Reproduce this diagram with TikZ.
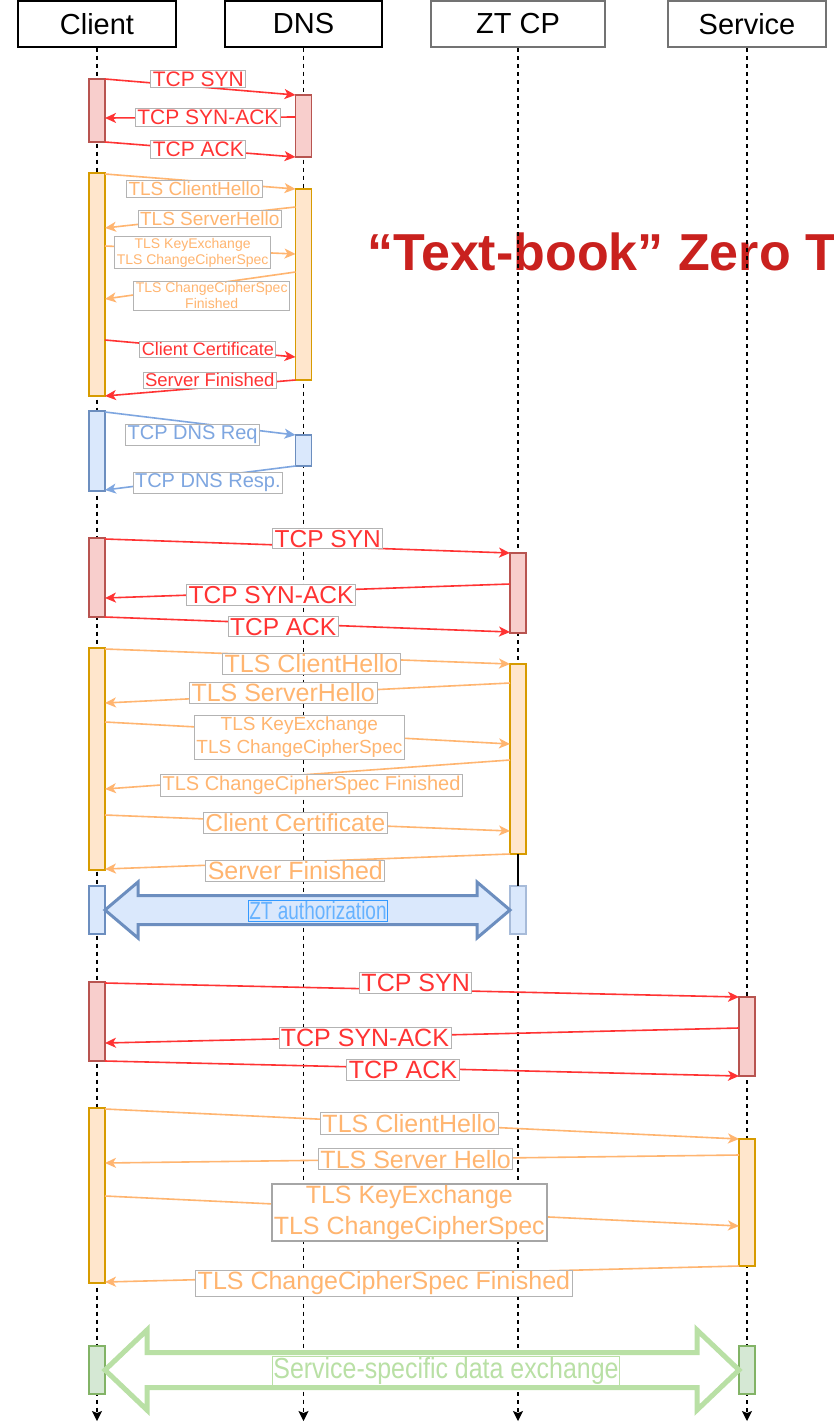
\documentclass[tikz,border=0pt]{standalone}
\usepackage{fontspec}
\setmainfont{Liberation Sans}
\newfontfamily\condensedsans{Liberation Sans}[FakeStretch=0.76]
\newfontfamily\narrowsans{Liberation Sans}[FakeStretch=0.86]
\usetikzlibrary{arrows.meta,calc}

\definecolor{tcpred}{HTML}{FF3333}
\definecolor{tlsorange}{HTML}{FFB570}
\definecolor{dnsblue}{HTML}{7EA6E0}
\definecolor{redfill}{HTML}{F8CECC}
\definecolor{redline}{HTML}{B85450}
\definecolor{orangefill}{HTML}{FFE6CC}
\definecolor{orangeline}{HTML}{D79B00}
\definecolor{bluefill}{HTML}{DAE8FC}
\definecolor{blueline}{HTML}{6C8EBF}
\definecolor{greenfill}{HTML}{D5E8D4}
\definecolor{greenline}{HTML}{82B366}
\definecolor{palegreen}{HTML}{B9E0A5}
\definecolor{lblgray}{HTML}{B3B3B3}
\definecolor{ztframe}{HTML}{3399FF}
\definecolor{zttext}{HTML}{66B2FF}
\definecolor{titlered}{HTML}{C9211E}

\begin{document}
\begin{tikzpicture}[x=1pt,y=-1pt,
  fs/.style 2 args={font=\fontsize{#1}{#2}\selectfont},
  lower/.style={yshift={-1pt*(#1)}},
  head/.style={draw=black, line width=1.3pt, minimum width=158pt, minimum height=46pt,
    inner sep=0pt, fs={29}{34}},
  grayhead/.style={head, draw=black!55, line width=2pt},
  lifeline/.style={line width=1.4pt, dash pattern=on 4pt off 4pt,
    -{Stealth[length=10pt,width=10pt,inset=2pt]}},
  barbase/.style={rectangle, minimum width=16pt, inner sep=0pt, outer sep=0pt, line width=1.4pt},
  redbar/.style={barbase, fill=redfill, draw=redline},
  orangebar/.style={barbase, fill=orangefill, draw=orangeline},
  bluebar/.style={barbase, fill=bluefill, draw=blueline},
  greenbar/.style={barbase, fill=greenfill, draw=greenline},
  msg/.style={line width=1.6pt, -{Stealth[length=11pt,width=10pt,inset=3pt]}},
  tcp/.style={msg, color=tcpred},
  tls/.style={msg, color=tlsorange},
  dnsmsg/.style={msg, color=dnsblue},
  lbl/.style={fill=white, draw=lblgray, line width=0.8pt, inner xsep=2pt, inner ysep=1.5pt,
    align=center},
  ztarrow/.style={fill=bluefill, draw=blueline, line width=3pt},
  dataarrow/.style={fill=white, draw=palegreen, line width=5pt}
]
\useasboundingbox (0,0) rectangle (834,1422);
\fill[white] (0,0) rectangle (834,1422);

% heading
\node[anchor=base west, inner sep=0pt, text=titlered,
      font=\bfseries\fontsize{52}{60}\selectfont] (title) at (367,270) {“Text-book” Zero T};

% participants
\node[head] (client) at (97,24) {Client};
\node[head, minimum width=157pt] (dns) at (303.5,24) {DNS};
\node[grayhead, minimum width=174pt] (ztcp) at (518,24) {ZT CP};
\node[grayhead] (service) at (747,24) {Service};

% lifelines
\coordinate (clientend) at (97,1421);
\coordinate (dnsend) at (303.5,1421);
\coordinate (ztcpend) at (518,1421);
\coordinate (serviceend) at (747,1421);
\draw[lifeline] (client.south) -- (clientend);
\draw[lifeline] (dns.south) -- (dnsend);
\draw[lifeline] (ztcp.south) -- (ztcpend);
\draw[lifeline] (service.south) -- (serviceend);

% activation bars
\node[redbar, minimum height=63pt] (c1) at (97,110.5) {};
\node[redbar, minimum height=62pt] (d1) at (303.5,126) {};
\node[orangebar, minimum height=223pt] (c2) at (97,284.5) {};
\node[orangebar, minimum height=191pt] (d2) at (303.5,284.5) {};
\node[bluebar, minimum height=80pt] (c3) at (97,451) {};
\node[bluebar, minimum height=31pt] (d3) at (303.5,450.5) {};
\node[redbar, minimum height=79pt] (c4) at (97,577.5) {};
\node[redbar, minimum height=80pt] (z4) at (518,593) {};
\node[orangebar, minimum height=222pt] (c5) at (97,759) {};
\node[orangebar, minimum height=190pt] (z5) at (518,759) {};
\node[bluebar, minimum height=48pt] (c6) at (97,910) {};
\node[bluebar, draw=blueline!60, minimum height=48pt] (z6) at (518,910) {};
\node[redbar, minimum height=79pt] (c7) at (97,1021.5) {};
\node[redbar, minimum height=79pt] (s7) at (747,1036.5) {};
\node[orangebar, minimum height=175pt] (c8) at (97,1195.5) {};
\node[orangebar, minimum height=127pt] (s8) at (747,1202.5) {};
\node[greenbar, minimum height=48pt] (c9) at (97,1370) {};
\node[greenbar, minimum height=48pt] (s9) at (747,1370) {};

\draw[line width=2.2pt] (z5.south) -- (z6.north);

% Client <-> DNS: TCP handshake
\draw[tcp] (c1.east |- 0,79) -- node[lbl, fs={21}{25}, pos=.49, lower=-8] {TCP SYN} (d1.west |- 0,95);
\draw[tcp] (d1.west |- 0,117) -- node[lbl, fs={21}{25}, pos=.46] {TCP SYN-ACK} (c1.east |- 0,118);
\draw[tcp] (c1.east |- 0,142) -- node[lbl, fs={21}{25}, pos=.49] {TCP ACK} (d1.west |- 0,157);

% Client <-> DNS: TLS handshake
\draw[tls] (c2.east |- 0,174) -- node[lbl, fs={19}{22}, pos=.47, lower=8] {TLS ClientHello} (d2.west |- 0,189);
\draw[tls] (d2.west |- 0,207) -- node[lbl, fs={19}{22}, pos=.45, lower=2.5] {TLS ServerHello} (c2.east |- 0,228);
\draw[tls] (c2.east |- 0,246) -- node[lbl, fs={14}{16}, pos=.46, lower=3] {TLS KeyExchange\\TLS ChangeCipherSpec} (d2.west |- 0,254);
\draw[tls] (d2.west |- 0,272) -- node[lbl, fs={14}{16}, pos=.44, lower=12] {TLS ChangeCipherSpec\\Finished} (c2.east |- 0,299);
\draw[tcp] (c2.east |- 0,340) -- node[lbl, fs={18}{21}, pos=.54] {Client Certificate} (d2.west |- 0,357);
\draw[tcp] (d2.west |- 0,380) -- node[lbl, fs={18.5}{21}, pos=.45, lower=-7] {Server Finished} (c2.east |- 0,396);

% Client <-> DNS: DNS query
\draw[dnsmsg] (c3.east |- 0,412) -- node[lbl, fs={20}{24}, pos=.46, lower=12] {TCP DNS Req} (d3.west |- 0,435);
\draw[dnsmsg] (d3.west |- 0,466) -- node[lbl, fs={20}{24}, pos=.46, lower=6] {TCP DNS Resp.} (c3.east |- 0,490);

% Client <-> ZT CP: TCP handshake
\draw[tcp] (c4.east |- 0,539) -- node[lbl, fs={24.5}{29}, pos=.55, lower=-8] {TCP SYN} (z4.west |- 0,553);
\draw[tcp] (z4.west |- 0,584) -- node[lbl, fs={24.5}{29}, pos=.59, lower=2.5] {TCP SYN-ACK} (c4.east |- 0,598);
\draw[tcp] (c4.east |- 0,617) -- node[lbl, fs={24.5}{29}, pos=.44, lower=3] {TCP ACK} (z4.west |- 0,632);

% Client <-> ZT CP: TLS handshake
\draw[tls] (c5.east |- 0,649) -- node[lbl, fs={25}{30}, pos=.51, lower=7] {TLS ClientHello} (z5.west |- 0,664);
\draw[tls] (z5.west |- 0,683) -- node[lbl, fs={25}{30}, pos=.56, lower=-1.5] {TLS ServerHello} (c5.east |- 0,703);
\draw[tls] (c5.east |- 0,722) -- node[lbl, fs={19}{23}, pos=.48, lower=5] {TLS KeyExchange\\TLS ChangeCipherSpec} (z5.west |- 0,744);
\draw[tls] (z5.west |- 0,760) -- node[lbl, fs={20}{24}, pos=.49, lower=11] {TLS ChangeCipherSpec Finished} (c5.east |- 0,789);
\draw[tls] (c5.east |- 0,815) -- node[lbl, fs={24.5}{29}, pos=.47] {Client Certificate} (z5.west |- 0,831);
\draw[tls] (z5.west |- 0,854) -- node[lbl, fs={25}{30}, pos=.53, lower=9] {Server Finished} (c5.east |- 0,869);

% ZT authorization
\draw[ztarrow] (c6.east) -- ++(33,-28) -- ++(0,13.5) -- ($(z6.west)+(-33,-14.5)$)
  -- ++(0,-13.5) -- (z6.west) -- ++(-33,28) -- ++(0,-13.5)
  -- ($(c6.east)+(33,14.5)$) -- ++(0,13.5) -- cycle;
\node[draw=ztframe, line width=1.2pt, inner xsep=1pt, inner ysep=1pt, text=zttext,
      font=\condensedsans\fontsize{25}{28}\selectfont] (ztlabel) at (318,911) {ZT authorization};

% Client <-> Service: TCP handshake
\draw[tcp] (c7.east |- 0,983) -- node[lbl, fs={25}{30}, pos=.49, lower=-7] {TCP SYN} (s7.west |- 0,997);
\draw[tcp] (s7.west |- 0,1028) -- node[lbl, fs={25}{30}, pos=.59, lower=1] {TCP SYN-ACK} (c7.east |- 0,1043);
\draw[tcp] (c7.east |- 0,1061) -- node[lbl, fs={25}{30}, pos=.47, lower=2] {TCP ACK} (s7.west |- 0,1076);

% Client <-> Service: TLS handshake
\draw[tls] (c8.east |- 0,1109) -- node[lbl, fs={25}{30}, pos=.48] {TLS ClientHello} (s8.west |- 0,1139);
\draw[tls] (s8.west |- 0,1155) -- node[lbl, fs={25}{30}, pos=.51] {TLS Server Hello} (c8.east |- 0,1163);
\draw[tls] (c8.east |- 0,1196) -- node[lbl, line width=1.6pt, draw=black!35, fs={25}{31}, pos=.48, lower=2]
  {TLS KeyExchange\\TLS ChangeCipherSpec} (s8.west |- 0,1226);
\draw[tls] (s8.west |- 0,1266) -- node[lbl, fs={25}{30}, pos=.56, lower=8.5] {TLS ChangeCipherSpec Finished} (c8.east |- 0,1282);

% Service-specific data exchange
\draw[dataarrow] (c9.east) -- ++(42,-40) -- ++(0,22.5) -- ($(s9.west)+(-42,-17.5)$)
  -- ++(0,-22.5) -- (s9.west) -- ++(-42,40) -- ++(0,-22.5)
  -- ($(c9.east)+(42,17.5)$) -- ++(0,22.5) -- cycle;
\node[fill=white, draw=palegreen, line width=1pt, inner xsep=1pt, inner ysep=1pt, text=palegreen,
      font=\narrowsans\fontsize{29}{32}\selectfont] (datalabel) at (446,1371) {Service-specific data exchange};
\end{tikzpicture}
\end{document}
